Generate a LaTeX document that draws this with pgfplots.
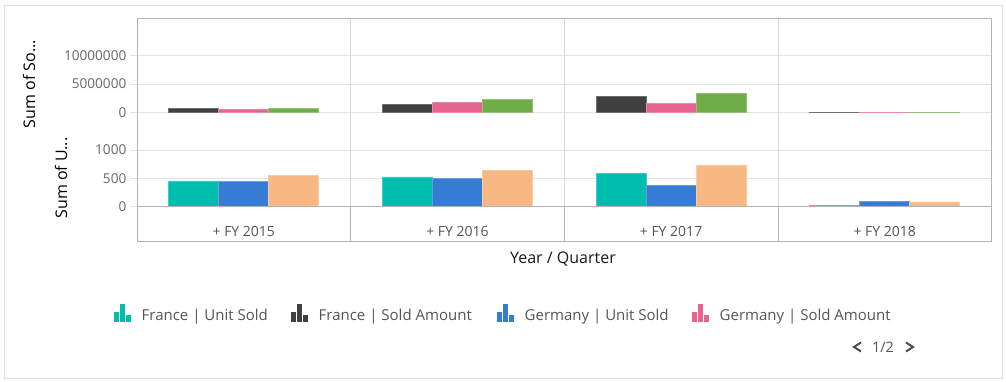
\documentclass[border=0pt]{standalone}
\usepackage{pgfplots}
\usepackage{pgfplotstable}
\pgfplotsset{compat=1.18}
\usepackage{fontspec}
\setmainfont{Open Sans}
\definecolor{cTeal}{HTML}{00BDAE}
\definecolor{cDark}{HTML}{404041}
\definecolor{cBlue}{HTML}{357CD2}
\definecolor{cPink}{HTML}{E56590}
\definecolor{cPeach}{HTML}{F8B883}
\definecolor{cGreen}{HTML}{70AD47}
\definecolor{gridc}{HTML}{E3E3E3}
\definecolor{sepc}{HTML}{DADADA}
\definecolor{framec}{HTML}{B4B4B4}
\definecolor{outerc}{HTML}{DDDDDD}
\definecolor{tickc}{HTML}{686868}
\definecolor{legc}{HTML}{555555}

\pgfplotstableread{
x FraAmt GerAmt UKAmt
0 700000 530000 760000
1 1470000 1770000 2230000
2 2830000 1590000 3360000
3 20000 15000 18000
}\amount
\pgfplotstableread{
x FraUnit GerUnit UKUnit
0 454 442 548
1 525 500 636
2 589 371 737
3 15 100 83
}\units

\pgfplotsset{panel/.style={
  scale only axis, width=854.5pt, height=94.35pt,
  xmin=-0.5, xmax=3.5, ymin=0,
  axis line style={draw=none},
  tick pos=left, tick align=outside, major tick length=7pt,
  ytick style={draw=gridc, line width=0.8pt},
  ymajorgrids, major grid style={draw=gridc, line width=0.8pt},
  scaled y ticks=false,
  yticklabel style={font=\fontsize{13.6}{13.6}\selectfont, text=tickc, inner sep=3.5pt,
    /pgf/number format/fixed, /pgf/number format/1000 sep={},
    /pgf/number format/assume math mode=true},
  ybar, bar width=50pt,
  clip=false,
}}

\begin{document}
\begin{tikzpicture}[x=1pt,y=1pt]
\useasboundingbox (0,0) rectangle (1006,382);
\draw[outerc, line width=0.8pt] (4.5,3.5) rectangle (1002.5,377);

% upper panel: Sold Amount
\begin{axis}[panel, at={(137pt,269.65pt)}, anchor=south west,
  ymax=16655000, ytick={0,5000000,10000000}, xtick=\empty]
\addplot[fill=cDark, draw=cDark!75!white, line width=0.75pt, bar shift=-50pt] table[x=x,y=FraAmt]{\amount};
\addplot[fill=cPink, draw=cPink!75!white, line width=0.75pt, bar shift=0pt] table[x=x,y=GerAmt]{\amount};
\addplot[fill=cGreen, draw=cGreen!75!white, line width=0.75pt, bar shift=50pt] table[x=x,y=UKAmt]{\amount};
\end{axis}

% lower panel: Unit Sold
\begin{axis}[panel, at={(137pt,175.3pt)}, anchor=south west,
  ymax=1664, ytick={0,500,1000},
  xtick={0,1,2,3}, xticklabels={+ FY 2015,+ FY 2016,+ FY 2017,+ FY 2018},
  xtick style={draw=none},
  xticklabel style={anchor=center, yshift=-17.6pt, font=\fontsize{14}{14}\selectfont, text=legc}]
\addplot[fill=cTeal, draw=cTeal!75!white, line width=0.75pt, bar shift=-50pt] table[x=x,y=FraUnit]{\units};
\addplot[fill=cBlue, draw=cBlue!75!white, line width=0.75pt, bar shift=0pt] table[x=x,y=GerUnit]{\units};
\addplot[fill=cPeach, draw=cPeach!75!white, line width=0.75pt, bar shift=50pt] table[x=x,y=UKUnit]{\units};
\end{axis}

% category separators and frame
\foreach \xx in {350.6,564.25,777.9} {
  \draw[sepc, line width=0.8pt] (\xx,175.3) -- (\xx,364);
  \draw[framec, line width=0.8pt] (\xx,140.5) -- (\xx,175.3);
}
\draw[framec, line width=0.8pt] (137,175.3) -- (991.5,175.3);
\draw[framec, line width=0.8pt] (137,140.5) rectangle (991.5,364);

% axis titles
\node[rotate=90, font=\fontsize{16}{16}\selectfont, text=black] at (29,298) {Sum of So...};
\node[rotate=90, font=\fontsize{16}{16}\selectfont, text=black] at (61,204) {Sum of U...};
\node[font=\fontsize{16}{16}\selectfont, text=black!90] at (563,123) {Year / Quarter};

% legend
\foreach \ix/\col/\txt in {114/cTeal/{France | Unit Sold}, 291/cDark/{France | Sold Amount}, 497/cBlue/{Germany | Unit Sold}, 692/cPink/{Germany | Sold Amount}} {
  \fill[\col] (\ix,60.3) rectangle ++(5.2,10);
  \fill[\col] (\ix+6,60.3) rectangle ++(4.8,17.4);
  \fill[\col] (\ix+11.7,60.3) rectangle ++(5.2,6.7);
  \node[anchor=base west, inner sep=0pt, font=\fontsize{15}{15}\selectfont, text=legc] at (\ix+27.5,61) {\txt};
}

% pager
\draw[black!70, line width=2pt] (861,39.5) -- (854,35) -- (861,30.5);
\draw[black!70, line width=2pt] (906,39.5) -- (913,35) -- (906,30.5);
\node[font=\fontsize{14.5}{14.5}\selectfont, text=legc] at (883,35) {1/2};
\end{tikzpicture}
\end{document}
